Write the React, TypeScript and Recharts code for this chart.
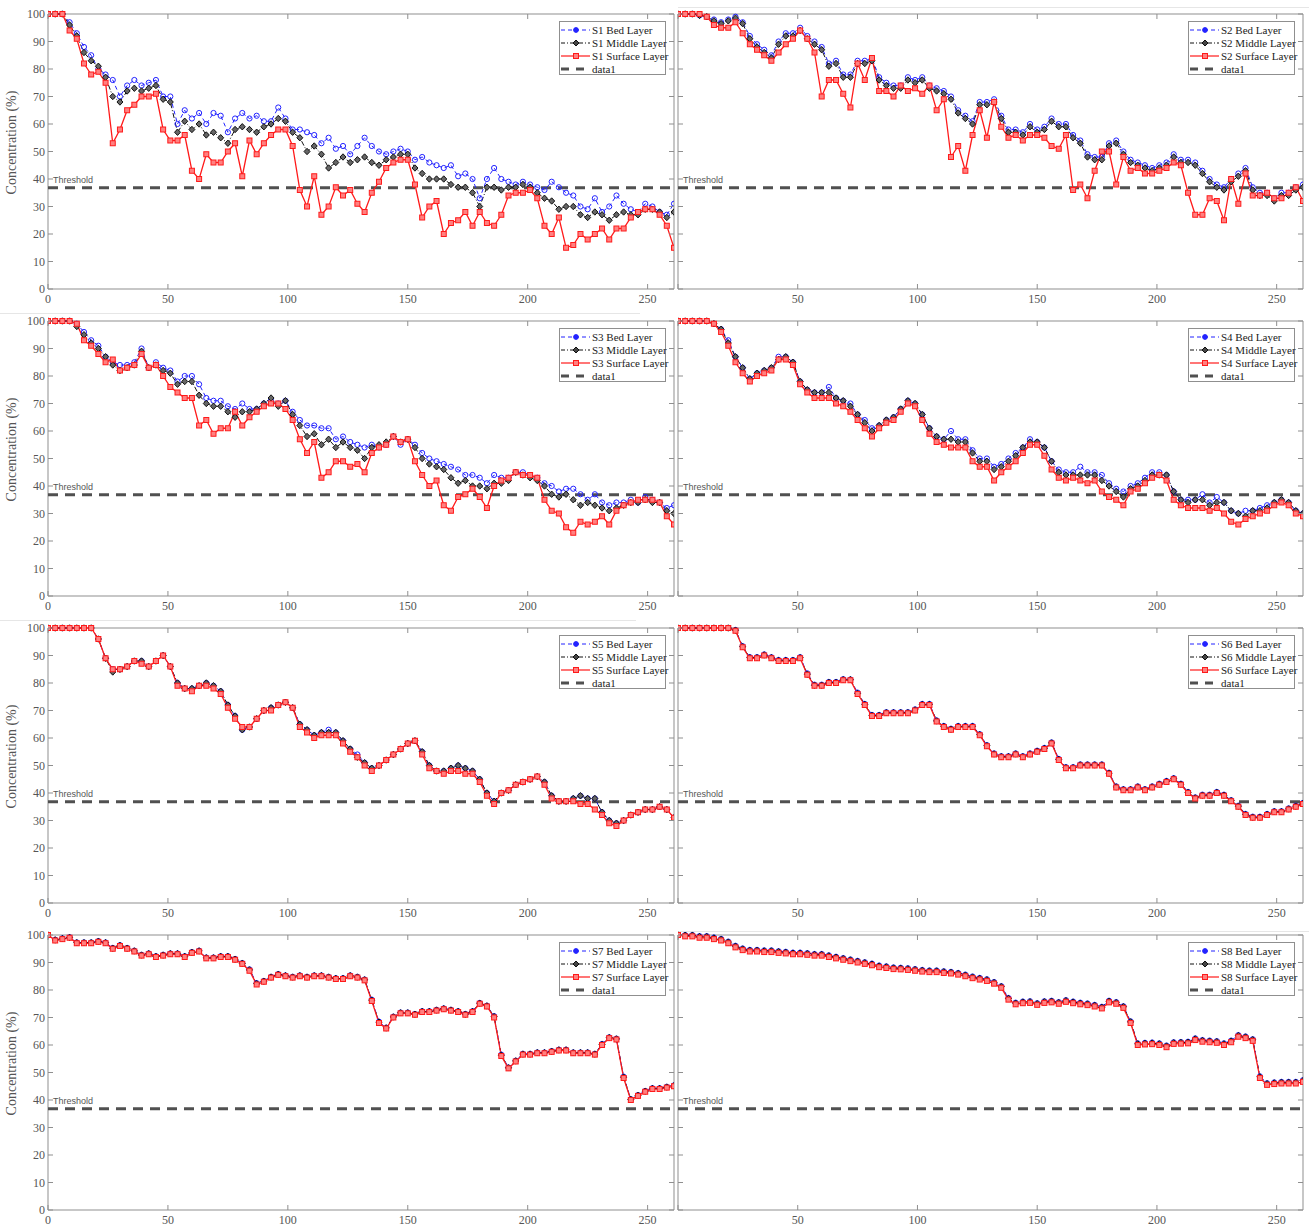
import React from "react";
import { LineChart, Line, XAxis, YAxis, ReferenceLine, ReferenceArea, Legend } from "recharts";

// sampling days (every 3rd day of the record)
const days = [
  0, 3, 6, 9, 12, 15, 18, 21, 24, 27, 30, 33, 36, 39, 42, 45, 48, 51, 54, 57, 60, 63,
  66, 69, 72, 75, 78, 81, 84, 87, 90, 93, 96, 99, 102, 105, 108, 111, 114, 117, 120, 123,
  126, 129, 132, 135, 138, 141, 144, 147, 150, 153, 156, 159, 162, 165, 168, 171, 174, 177, 180, 183,
  186, 189, 192, 195, 198, 201, 204, 207, 210, 213, 216, 219, 222, 225, 228, 231, 234, 237, 240, 243,
  246, 249, 252, 255, 258, 261,
];

const xTicks = [0, 50, 100, 150, 200, 250];
const yTicks = [0, 10, 20, 30, 40, 50, 60, 70, 80, 90, 100];
const THRESHOLD = 36.8;

// ---- S1 ----
const s1Bed = [
  100, 100, 100, 97, 93, 88, 85, 80, 78, 76, 70,
  74, 76, 74, 75, 76, 70, 70, 60, 65, 62, 64,
  60, 64, 63, 57, 62, 64, 62, 63, 61, 61, 66,
  62, 58, 58, 57, 56, 53, 55, 51, 52, 49, 52,
  55, 52, 50, 49, 50, 51, 50, 47, 48, 46, 45,
  44, 45, 41, 42, 40, 33, 40, 44, 40, 39, 38,
  39, 38, 37, 36, 39, 37, 35, 34, 30, 29, 33,
  28, 30, 34, 31, 29, 28, 31, 30, 28, 27, 31,
];
const s1Middle = [
  100, 100, 100, 96, 92, 86, 83, 81, 77, 70, 68,
  72, 73, 72, 73, 74, 69, 68, 57, 61, 58, 60,
  56, 57, 55, 53, 58, 59, 58, 57, 59, 60, 62,
  61, 57, 55, 50, 52, 49, 44, 46, 48, 46, 47,
  48, 46, 45, 47, 48, 49, 49, 44, 42, 40, 40,
  40, 38, 37, 37, 35, 30, 37, 37, 36, 37, 37,
  38, 37, 35, 33, 32, 29, 30, 30, 27, 26, 28,
  27, 25, 27, 28, 27, 27, 29, 29, 28, 26, 28,
];
const s1Surface = [
  100, 100, 100, 94, 91, 82, 78, 79, 75, 53, 58,
  65, 67, 70, 70, 71, 58, 54, 54, 56, 43, 40,
  49, 46, 46, 50, 53, 41, 54, 49, 53, 56, 58,
  58, 52, 36, 30, 41, 27, 30, 37, 34, 36, 31,
  28, 35, 39, 44, 46, 47, 47, 38, 26, 30, 32,
  20, 24, 25, 28, 23, 28, 24, 23, 27, 34, 35,
  35, 36, 33, 23, 20, 26, 15, 16, 20, 18, 20,
  22, 18, 22, 22, 26, 28, 29, 29, 27, 23, 15,
];

// ---- S2 ----
const s2Bed = [
  100, 100, 100, 99.5, 99, 98, 97, 98, 99, 97, 92,
  89, 87, 85, 90, 93, 93, 95, 92, 90, 88, 82,
  83, 78, 78, 83, 83, 84, 77, 75, 74, 74, 77,
  76, 77, 74, 73, 72, 70, 65, 63, 61, 68, 68,
  69, 63, 58, 58, 57, 60, 58, 59, 62, 60, 60,
  56, 54, 49, 48, 48, 53, 54, 50, 47, 46, 45,
  44, 45, 46, 49, 47, 47, 46, 43, 40, 38, 37,
  40, 42, 44, 37, 35, 35, 33, 35, 35, 37, 38,
];
const s2Middle = [
  100, 100, 100, 99.5, 99, 97.5, 96.5, 97.5, 98.5, 96.5, 91,
  88, 86, 84, 89, 92, 92, 94, 91, 89, 87, 81,
  82, 77, 77, 82, 82, 83, 76, 74, 73, 73, 76,
  75, 76, 73, 72, 71, 69, 64, 62, 60, 67, 67,
  68, 62, 57, 57, 56, 59, 57, 58, 61, 59, 59,
  55, 53, 48, 47, 47, 52, 53, 49, 46, 45, 44,
  43, 44, 45, 48, 46, 46, 45, 42, 39, 37, 36,
  39, 41, 43, 36, 34, 34, 32, 34, 34, 36, 37,
];
const s2Surface = [
  100, 100, 100, 100, 99, 96, 95, 95, 97, 93, 89,
  87, 85, 83, 86, 89, 91, 94, 91, 86, 70, 76,
  76, 71, 66, 82, 76, 84, 72, 72, 70, 74, 72,
  73, 71, 74, 65, 69, 48, 52, 43, 56, 65, 55,
  68, 59, 55, 56, 54, 56, 56, 55, 52, 51, 56,
  36, 38, 33, 43, 50, 50, 38, 48, 43, 44, 42,
  42, 43, 44, 46, 45, 35, 27, 27, 33, 32, 25,
  40, 31, 42, 34, 34, 35, 33, 33, 35, 37, 32,
];

// ---- S3 ----
const s3Bed = [
  100, 100, 100, 100, 99, 96, 93, 91, 87, 85, 84,
  84, 85, 90, 83, 85, 83, 82, 78, 80, 80, 77,
  72, 71, 71, 69, 68, 70, 68, 68, 70, 71, 70,
  71, 67, 64, 62, 62, 61, 61, 57, 58, 56, 55,
  54, 55, 54, 55, 58, 55, 57, 55, 52, 50, 49,
  48, 47, 46, 44, 44, 43, 41, 44, 43, 43, 45,
  45, 44, 43, 41, 40, 38, 39, 39, 37, 35, 37,
  34, 33, 34, 34, 35, 34, 36, 35, 34, 32, 33,
];
const s3Middle = [
  100, 100, 100, 100, 98, 95, 92, 90, 87, 84, 82,
  83, 84, 89, 83, 84, 82, 81, 77, 78, 78, 73,
  70, 69, 69, 67, 65, 67, 67, 68, 70, 72, 69,
  71, 66, 62, 58, 59, 55, 57, 54, 56, 54, 53,
  50, 54, 55, 56, 58, 56, 57, 54, 50, 48, 47,
  46, 43, 41, 42, 40, 40, 39, 41, 41, 42, 45,
  44, 43, 42, 40, 37, 36, 37, 35, 33, 34, 33,
  32, 31, 32, 33, 34, 34, 35, 34, 34, 31, 30,
];
const s3Surface = [
  100, 100, 100, 100, 99, 93, 91, 88, 85, 86, 82,
  83, 84, 88, 83, 84, 80, 76, 74, 72, 72, 62,
  64, 59, 61, 61, 67, 62, 65, 67, 69, 70, 70,
  68, 64, 57, 52, 56, 43, 45, 49, 49, 47, 48,
  45, 52, 54, 55, 58, 56, 57, 49, 44, 40, 42,
  33, 31, 36, 37, 39, 36, 32, 40, 42, 43, 45,
  44, 44, 43, 35, 31, 30, 25, 23, 27, 26, 27,
  29, 26, 31, 33, 34, 35, 35, 35, 34, 29, 26,
];

// ---- S4 ----
const s4Bed = [
  100, 100, 100, 100, 100, 99, 97, 93, 87, 83, 79,
  81, 82, 83, 87, 87, 85, 78, 75, 74, 74, 76,
  72, 71, 70, 66, 64, 61, 62, 64, 65, 68, 71,
  70, 66, 61, 58, 57, 60, 57, 57, 53, 50, 50,
  47, 48, 50, 52, 54, 57, 56, 54, 49, 46, 45,
  45, 47, 45, 45, 44, 41, 39, 38, 40, 41, 43,
  45, 45, 44, 38, 35, 35, 35, 37, 34, 36, 34,
  31, 30, 31, 31, 32, 33, 34, 35, 34, 31, 30,
];
const s4Middle = [
  100, 100, 100, 100, 100, 99, 97, 92, 87, 83, 79,
  81, 82, 83, 86, 87, 85, 78, 75, 74, 74, 74,
  72, 71, 69, 66, 63, 60, 62, 64, 65, 68, 71,
  70, 66, 61, 58, 57, 57, 56, 56, 52, 49, 49,
  46, 47, 49, 51, 54, 56, 56, 54, 49, 45, 44,
  44, 44, 44, 44, 42, 40, 38, 36, 39, 40, 42,
  44, 44, 44, 38, 35, 34, 35, 35, 33, 34, 34,
  31, 30, 29, 31, 31, 32, 34, 35, 34, 31, 30,
];
const s4Surface = [
  100, 100, 100, 100, 100, 99, 96, 91, 85, 81, 78,
  80, 81, 82, 86, 86, 84, 77, 74, 72, 72, 72,
  70, 69, 67, 64, 61, 58, 61, 63, 64, 67, 70,
  69, 64, 59, 56, 55, 54, 54, 54, 49, 47, 47,
  42, 45, 47, 49, 52, 55, 55, 51, 46, 43, 42,
  43, 42, 41, 42, 38, 36, 35, 33, 38, 39, 41,
  43, 44, 42, 35, 33, 32, 32, 32, 31, 32, 30,
  27, 26, 28, 29, 30, 31, 33, 34, 33, 30, 29,
];

// ---- S5 ----
const s5Bed = [
  100, 100, 100, 100, 100, 100, 100, 96, 89, 85, 85,
  86, 88, 88, 86, 88, 90, 86, 80, 78, 78, 79,
  80, 79, 77, 72, 68, 63, 64, 67, 70, 71, 72,
  73, 71, 65, 63, 61, 62, 63, 62, 59, 56, 54,
  51, 49, 50, 52, 54, 56, 58, 59, 55, 50, 48,
  48, 49, 50, 49, 48, 45, 40, 37, 40, 41, 43,
  44, 45, 46, 44, 39, 37, 37, 38, 39, 38, 38,
  33, 30, 29, 30, 32, 33, 34, 34, 35, 34, 31,
];
const s5Middle = [
  100, 100, 100, 100, 100, 100, 100, 96, 89, 84, 85,
  86, 88, 88, 86, 88, 90, 86, 80, 78, 78, 79,
  80, 79, 77, 72, 68, 63, 64, 67, 70, 71, 72,
  73, 71, 65, 63, 61, 62, 62, 62, 59, 56, 53,
  51, 49, 50, 52, 54, 56, 58, 59, 55, 50, 48,
  48, 49, 50, 49, 48, 45, 40, 37, 40, 41, 43,
  44, 45, 46, 44, 39, 37, 37, 38, 39, 38, 38,
  33, 30, 29, 30, 32, 33, 34, 34, 35, 34, 31,
];
const s5Surface = [
  100, 100, 100, 100, 100, 100, 100, 96, 89, 85, 85,
  86, 88, 87, 86, 88, 90, 86, 79, 78, 77, 79,
  79, 78, 76, 71, 67, 64, 64, 67, 70, 70, 72,
  73, 71, 64, 62, 60, 61, 61, 61, 58, 55, 53,
  50, 48, 50, 52, 54, 56, 58, 59, 54, 49, 48,
  47, 48, 48, 47, 47, 44, 39, 36, 40, 41, 43,
  44, 45, 46, 43, 38, 37, 37, 37, 36, 36, 34,
  32, 29, 28, 30, 32, 33, 34, 34, 35, 34, 31,
];

// ---- S6 ----
const s6Bed = [
  100, 100, 100, 100, 100, 100, 100, 100, 99.3, 93.4, 89.4,
  89.4, 90.4, 89.4, 88.4, 88.4, 88.4, 89.4, 83.5, 79.4, 79.4, 80.4,
  80.4, 81.4, 81.3, 76.5, 72.4, 68.4, 68.4, 69.4, 69.4, 69.4, 69.4,
  70.4, 72.4, 72.4, 66.4, 64.4, 63.4, 64.4, 64.4, 64.4, 61.4, 57.4,
  54.4, 53.4, 53.4, 54.4, 53.4, 54.4, 55.4, 56.4, 58.4, 52.4, 49.4,
  49.4, 50.4, 50.4, 50.4, 50.4, 47.4, 42.4, 41.4, 41.4, 42.4, 41.4,
  42.4, 43.4, 44.4, 45.4, 43.4, 40.4, 38.4, 39.4, 39.4, 40.4, 39.4,
  37.4, 35.4, 32.4, 31.4, 31.4, 32.4, 33.4, 33.4, 34.4, 35.4, 36.4,
];
const s6Middle = [
  100, 100, 100, 100, 100, 100, 100, 100, 99.2, 93.2, 89.2,
  89.2, 90.2, 89.2, 88.2, 88.2, 88.2, 89.2, 83.2, 79.2, 79.2, 80.2,
  80.2, 81.2, 81.2, 76.2, 72.2, 68.2, 68.2, 69.2, 69.2, 69.2, 69.2,
  70.2, 72.2, 72.2, 66.2, 64.2, 63.2, 64.2, 64.2, 64.2, 61.2, 57.2,
  54.2, 53.2, 53.2, 54.2, 53.2, 54.2, 55.2, 56.2, 58.2, 52.2, 49.2,
  49.2, 50.2, 50.2, 50.2, 50.2, 47.2, 42.2, 41.2, 41.2, 42.2, 41.2,
  42.2, 43.2, 44.2, 45.2, 43.2, 40.2, 38.2, 39.2, 39.2, 40.2, 39.2,
  37.2, 35.2, 32.2, 31.2, 31.2, 32.2, 33.2, 33.2, 34.2, 35.2, 36.2,
];
const s6Surface = [
  100, 100, 100, 100, 100, 100, 100, 100, 99, 93, 89,
  89, 90, 89, 88, 88, 88, 89, 83, 79, 79, 80,
  80, 81, 81, 76, 72, 68, 68, 69, 69, 69, 69,
  70, 72, 72, 66, 64, 63, 64, 64, 64, 61, 57,
  54, 53, 53, 54, 53, 54, 55, 56, 58, 52, 49,
  49, 50, 50, 50, 50, 47, 42, 41, 41, 42, 41,
  42, 43, 44, 45, 43, 40, 38, 39, 39, 40, 39,
  37, 35, 32, 31, 31, 32, 33, 33, 34, 35, 36,
];

// ---- S7 ----
const s7Bed = [
  100, 98.3, 98.8, 99.2, 97.3, 97.3, 97.3, 97.8, 97.3, 95.3, 96.3,
  95.3, 94.3, 92.8, 93.3, 92.3, 92.8, 93.3, 93.3, 92.3, 93.8, 94.3,
  91.8, 91.8, 92.3, 92.3, 91.3, 89.8, 87.5, 82.5, 83.3, 84.8, 85.8,
  85.3, 84.8, 85.3, 84.8, 85.3, 85.3, 84.8, 84.3, 84.3, 85.3, 84.8,
  83.8, 76.5, 68.5, 66.3, 70.3, 71.8, 71.8, 71.3, 72.3, 72.3, 72.8,
  73.3, 72.8, 72.3, 71.3, 72.3, 75.3, 74.3, 70.5, 56.5, 51.8, 54.3,
  56.8, 56.8, 57.3, 57.3, 57.8, 58.3, 58.3, 57.3, 57.3, 57.3, 56.8,
  60.4, 62.8, 62.3, 48.5, 40.3, 41.8, 43.3, 44.3, 44.3, 44.8, 45.3,
];
const s7Middle = [
  100, 98.2, 98.7, 99.1, 97.2, 97.2, 97.2, 97.7, 97.2, 95.2, 96.2,
  95.2, 94.2, 92.7, 93.2, 92.2, 92.7, 93.2, 93.2, 92.2, 93.7, 94.2,
  91.7, 91.7, 92.2, 92.2, 91.2, 89.7, 87.3, 82.3, 83.2, 84.7, 85.7,
  85.2, 84.7, 85.2, 84.7, 85.2, 85.2, 84.7, 84.2, 84.2, 85.2, 84.7,
  83.7, 76.3, 68.3, 66.2, 70.2, 71.7, 71.7, 71.2, 72.2, 72.2, 72.7,
  73.2, 72.7, 72.2, 71.2, 72.2, 75.2, 74.2, 70.3, 56.3, 51.7, 54.2,
  56.7, 56.7, 57.2, 57.2, 57.7, 58.2, 58.2, 57.2, 57.2, 57.2, 56.7,
  60.2, 62.7, 62.2, 48.3, 40.2, 41.7, 43.2, 44.2, 44.2, 44.7, 45.2,
];
const s7Surface = [
  100, 98, 98.5, 99, 97, 97, 97, 97.5, 97, 95, 96,
  95, 94, 92.5, 93, 92, 92.5, 93, 93, 92, 93.5, 94,
  91.5, 91.5, 92, 92, 91, 89.5, 87, 82, 83, 84.5, 85.5,
  85, 84.5, 85, 84.5, 85, 85, 84.5, 84, 84, 85, 84.5,
  83.5, 76, 68, 66, 70, 71.5, 71.5, 71, 72, 72, 72.5,
  73, 72.5, 72, 71, 72, 75, 74, 70, 56, 51.5, 54,
  56.5, 56.5, 57, 57, 57.5, 58, 58, 57, 57, 57, 56.5,
  60, 62.5, 62, 48, 40, 41.5, 43, 44, 44, 44.5, 45,
];

// ---- S8 ----
const s8Bed = [
  100, 100, 100, 99.6, 99.6, 99.1, 98.6, 97.6, 96.1, 95.1, 94.6,
  94.6, 94.4, 94.4, 94.1, 93.9, 93.6, 93.6, 93.4, 93.1, 93.1, 92.6,
  92.1, 91.6, 91.1, 90.6, 90.1, 89.6, 88.9, 88.6, 88.2, 88.1, 87.9,
  87.6, 87.3, 87.1, 87.1, 86.8, 86.6, 86.2, 85.6, 84.9, 84.4, 83.9,
  82.9, 81.4, 77.1, 75.4, 75.8, 75.9, 75.2, 75.9, 76.1, 75.6, 76.3,
  75.8, 75.4, 75.1, 74.6, 73.9, 76.1, 75.6, 74.1, 68.6, 60.6, 60.8,
  60.9, 60.6, 59.8, 61, 61.1, 61.2, 62.4, 61.8, 61.6, 61.4, 60.6,
  61.6, 63.6, 63.1, 62.1, 48.6, 46.1, 46.4, 46.6, 46.6, 46.6, 47.2,
];
const s8Middle = [
  100, 99.9, 99.9, 99.4, 99.4, 98.9, 98.4, 97.4, 95.9, 94.9, 94.4,
  94.4, 94.2, 94.2, 93.9, 93.7, 93.4, 93.4, 93.2, 92.9, 92.9, 92.4,
  91.9, 91.4, 90.9, 90.4, 89.9, 89.4, 88.7, 88.4, 88, 87.9, 87.7,
  87.4, 87.1, 86.9, 86.9, 86.6, 86.4, 86, 85.4, 84.7, 84.2, 83.7,
  82.7, 81.2, 76.9, 75.2, 75.6, 75.7, 75, 75.7, 75.9, 75.4, 76.1,
  75.6, 75.2, 74.9, 74.4, 73.7, 75.9, 75.4, 73.9, 68.4, 60.4, 60.6,
  60.7, 60.4, 59.6, 60.8, 60.9, 61, 62.2, 61.6, 61.4, 61.2, 60.4,
  61.4, 63.4, 62.9, 61.9, 48.4, 45.9, 46.2, 46.4, 46.4, 46.4, 47,
];
const s8Surface = [
  100, 99.5, 99.5, 99, 99, 98.5, 98, 97, 95.5, 94.5, 94,
  94, 93.8, 93.8, 93.5, 93.3, 93, 93, 92.8, 92.5, 92.5, 92,
  91.5, 91, 90.5, 90, 89.5, 89, 88.3, 88, 87.6, 87.5, 87.3,
  87, 86.7, 86.5, 86.5, 86.2, 86, 85.6, 85, 84.3, 83.8, 83.3,
  82.3, 80.8, 76.5, 74.8, 75.2, 75.3, 74.6, 75.3, 75.5, 75, 75.7,
  75.2, 74.8, 74.5, 74, 73.3, 75.5, 75, 73.5, 68, 60, 60.2,
  60.3, 60, 59.2, 60.4, 60.5, 60.6, 61.8, 61.2, 61, 60.8, 60,
  61, 63, 62.5, 61.5, 48, 45.5, 45.8, 46, 46, 46, 46.6,
];

const SERIF = '"Liberation Serif", "Times New Roman", serif';
const SANS = '"Liberation Sans", Arial, sans-serif';
const BLUE = "#2323ff";
const BLACK = "#111111";
const RED = "#ff1a1a";
const AXIS = "#8f8f8f";
const TEXT = "#555555";

const PLOT_TOP = 10;
const PLOT_H = 275;
const AXIS_H = 22;

function BedDot(p: any) {
  if (p.cx == null || p.cy == null) return <g key={`b${p.index}`} />;
  return <circle key={`b${p.index}`} cx={p.cx} cy={p.cy} r={2.6} fill="none" stroke={BLUE} strokeWidth={1} />;
}

function MiddleDot(p: any) {
  if (p.cx == null || p.cy == null) return <g key={`m${p.index}`} />;
  const { cx, cy } = p;
  const d = `M${cx},${cy - 3.2}L${cx + 3},${cy}L${cx},${cy + 3.2}L${cx - 3},${cy}Z`;
  return <path key={`m${p.index}`} d={d} fill="#666" stroke={BLACK} strokeWidth={1} />;
}

function SurfaceDot(p: any) {
  if (p.cx == null || p.cy == null) return <g key={`s${p.index}`} />;
  return (
    <rect key={`s${p.index}`} x={p.cx - 2.5} y={p.cy - 2.5} width={5} height={5} fill="#ff8080" stroke={RED} strokeWidth={1} />
  );
}

function LegendBox({ site }: { site: string }) {
  const entries = [
    { key: "bed", name: `${site} Bed Layer` },
    { key: "middle", name: `${site} Middle Layer` },
    { key: "surface", name: `${site} Surface Layer` },
    { key: "thr", name: "data1" },
  ];
  const sample = (k: string) => {
    if (k === "bed")
      return (
        <>
          <line x1={1} x2={30} y1={6} y2={6} stroke={BLUE} strokeDasharray="4 3" />
          <circle cx={16} cy={6} r={2.4} fill={BLUE} stroke={BLUE} />
        </>
      );
    if (k === "middle")
      return (
        <>
          <line x1={1} x2={30} y1={6} y2={6} stroke={BLACK} strokeDasharray="4 2 1 2" />
          <path d="M16,3L19,6L16,9L13,6Z" fill="#444" stroke={BLACK} />
        </>
      );
    if (k === "surface")
      return (
        <>
          <line x1={1} x2={30} y1={6} y2={6} stroke={RED} strokeWidth={1.2} />
          <rect x={13.5} y={3.5} width={5} height={5} fill="#ff8080" stroke={RED} />
        </>
      );
    return <line x1={1} x2={30} y1={6} y2={6} stroke="#505050" strokeWidth={3} strokeDasharray="8 7" />;
  };
  return (
    <div
      style={{
        width: 107,
        height: 54,
        boxSizing: "border-box",
        border: `1px solid ${AXIS}`,
        background: "#fff",
        paddingTop: 1,
      }}
    >
      {entries.map((e) => (
        <div
          key={e.key}
          style={{
            display: "flex",
            alignItems: "center",
            height: 13,
            fontFamily: SERIF,
            fontSize: 11,
            color: "#222",
            whiteSpace: "nowrap",
          }}
        >
          <svg width={32} height={12} style={{ flex: "none" }}>
            {sample(e.key)}
          </svg>
          <span>{e.name}</span>
        </div>
      ))}
    </div>
  );
}

type PanelProps = {
  site: string;
  bed: number[];
  middle: number[];
  surface: number[];
  top: number;
  side: "left" | "right";
};

function Panel({ site, bed, middle, surface, top, side }: PanelProps) {
  const isLeft = side === "left";
  const axisW = isLeft ? 48 : 4;
  const plotW = isLeft ? 626 : 625;
  const padR = isLeft ? 3 : 4;
  const left = isLeft ? 0 : 674;
  const width = axisW + plotW + padR;
  const height = PLOT_TOP + PLOT_H + AXIS_H;
  const plotL = axisW;
  const plotR = axisW + plotW;
  const plotT = PLOT_TOP;
  const plotB = PLOT_TOP + PLOT_H;

  const rows = days.map((d, i) => ({ day: d, bed: bed[i], middle: middle[i], surface: surface[i] }));

  const renderXTick = (p: any) => (
    <g>
      <line x1={p.x} x2={p.x} y1={plotB} y2={plotB - 5} stroke={AXIS} />
      <line x1={p.x} x2={p.x} y1={plotT} y2={plotT + 5} stroke={AXIS} />
      {(isLeft || p.payload.value !== 0) && (
        <text x={p.x} y={plotB + 14} textAnchor="middle" fill={TEXT} fontSize={12} fontFamily={SERIF}>
          {p.payload.value}
        </text>
      )}
    </g>
  );

  const renderYTick = (p: any) => (
    <g>
      <line x1={plotL} x2={plotL + 5} y1={p.y} y2={p.y} stroke={AXIS} />
      <line x1={plotR - 5} x2={plotR} y1={p.y} y2={p.y} stroke={AXIS} />
      {isLeft && (
        <text x={plotL - 3} y={p.y + 4} textAnchor="end" fill={TEXT} fontSize={12} fontFamily={SERIF}>
          {p.payload.value}
        </text>
      )}
    </g>
  );

  const renderYLabel = () => (
    <text
      transform={`translate(16, ${plotT + PLOT_H / 2 - 9}) rotate(-90)`}
      textAnchor="middle"
      fill={TEXT}
      fontSize={14}
      fontFamily={SERIF}
    >
      Concentration (%)
    </text>
  );

  return (
    <div style={{ position: "absolute", left, top: top - PLOT_TOP, width, height }}>
      <LineChart width={width} height={height} data={rows} margin={{ top: PLOT_TOP, right: padR, bottom: 0, left: 0 }}>
        <XAxis
          type="number"
          dataKey="day"
          domain={[0, 261]}
          ticks={xTicks}
          interval={0}
          height={AXIS_H}
          axisLine={false}
          tickLine={false}
          tickSize={0}
          tick={renderXTick}
          allowDataOverflow
        />
        <YAxis
          type="number"
          domain={[0, 100]}
          ticks={yTicks}
          interval={0}
          width={axisW}
          axisLine={false}
          tickLine={false}
          tickSize={0}
          tick={renderYTick}
          label={isLeft ? renderYLabel : undefined}
        />
        <ReferenceArea x1={0} x2={261} y1={0} y2={100} fill="none" stroke={AXIS} strokeWidth={1} />
        <ReferenceLine
          y={THRESHOLD}
          stroke="#505050"
          strokeWidth={3}
          strokeDasharray="10 7"
          label={{ value: "Threshold", position: "insideBottomLeft", offset: 5, fill: TEXT, fontSize: 9, fontFamily: SANS }}
        />
        <Line
          dataKey="bed"
          stroke={BLUE}
          strokeWidth={1}
          strokeDasharray="4 3"
          dot={BedDot}
          activeDot={false}
          isAnimationActive={false}
        />
        <Line
          dataKey="middle"
          stroke={BLACK}
          strokeWidth={1}
          strokeDasharray="5 2 1 2"
          dot={MiddleDot}
          activeDot={false}
          isAnimationActive={false}
        />
        <Line
          dataKey="surface"
          stroke={RED}
          strokeWidth={1.3}
          dot={SurfaceDot}
          activeDot={false}
          isAnimationActive={false}
        />
        <Legend
          layout="vertical"
          align="center"
          verticalAlign="middle"
          wrapperStyle={{ left: plotR - 8 - 107, top: plotT + 7, width: 107 }}
          content={() => <LegendBox site={site} />}
        />
      </LineChart>
    </div>
  );
}

const ROW_TOPS = [14, 321, 628, 935];

export default function App() {
  return (
    <div
      style={{
        position: "absolute",
        left: 0,
        top: 0,
        width: 1309,
        height: 1228,
        background: "#fff",
        fontFamily: SERIF,
        overflow: "hidden",
      }}
    >
      <div style={{ position: "absolute", left: 678, top: 7, width: 631, height: 1, background: "#e6e6e6" }} />
      <div style={{ position: "absolute", left: 0, top: 313, width: 640, height: 1, background: "#e6e6e6" }} />
      <div style={{ position: "absolute", left: 0, top: 620, width: 636, height: 1, background: "#e6e6e6" }} />
      <div style={{ position: "absolute", left: 678, top: 931, width: 631, height: 1, background: "#e6e6e6" }} />

      <Panel site="S1" bed={s1Bed} middle={s1Middle} surface={s1Surface} top={ROW_TOPS[0]} side="left" />
      <Panel site="S2" bed={s2Bed} middle={s2Middle} surface={s2Surface} top={ROW_TOPS[0]} side="right" />
      <Panel site="S3" bed={s3Bed} middle={s3Middle} surface={s3Surface} top={ROW_TOPS[1]} side="left" />
      <Panel site="S4" bed={s4Bed} middle={s4Middle} surface={s4Surface} top={ROW_TOPS[1]} side="right" />
      <Panel site="S5" bed={s5Bed} middle={s5Middle} surface={s5Surface} top={ROW_TOPS[2]} side="left" />
      <Panel site="S6" bed={s6Bed} middle={s6Middle} surface={s6Surface} top={ROW_TOPS[2]} side="right" />
      <Panel site="S7" bed={s7Bed} middle={s7Middle} surface={s7Surface} top={ROW_TOPS[3]} side="left" />
      <Panel site="S8" bed={s8Bed} middle={s8Middle} surface={s8Surface} top={ROW_TOPS[3]} side="right" />
    </div>
  );
}
